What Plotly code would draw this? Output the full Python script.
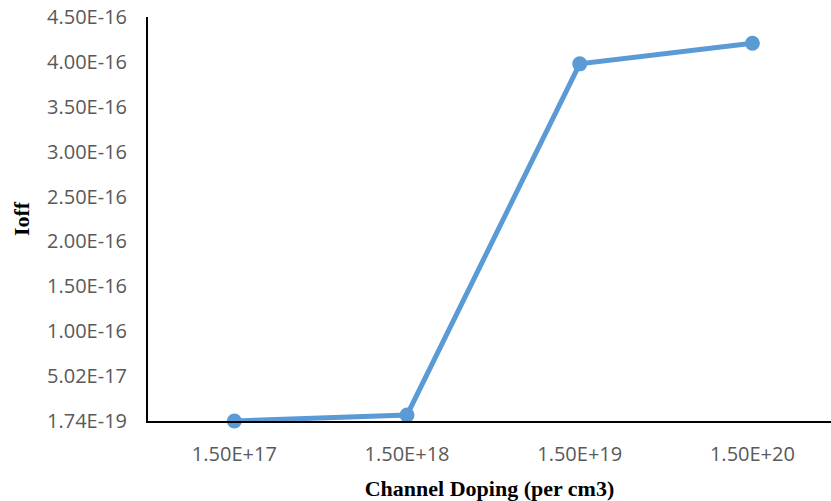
import plotly.graph_objects as go

# Data
categories = ["1.50E+17", "1.50E+18", "1.50E+19", "1.50E+20"]
ioff_values = [1.74e-19, 6.9e-18, 3.98e-16, 4.21e-16]
y_tick_values = [1.74e-19 + k * 5e-17 for k in range(10)]
y_tick_labels = ["1.74E-19", "5.02E-17", "1.00E-16", "1.50E-16", "2.00E-16",
                 "2.50E-16", "3.00E-16", "3.50E-16", "4.00E-16", "4.50E-16"]

fig = go.Figure()
fig.add_trace(go.Scatter(
    x=categories, y=ioff_values, mode="lines+markers",
    line=dict(color="#5B9BD5", width=5),
    marker=dict(color="#5B9BD5", size=15),
    cliponaxis=False, showlegend=False,
))

tick_font = dict(family="Open Sans", size=20, color="#595959")
title_font = dict(family="Liberation Serif", size=22, color="black")

y_span = y_tick_values[-1] - y_tick_values[0]

fig.update_layout(
    width=831, height=501,
    margin=dict(l=148, r=0, t=17, b=80),
    paper_bgcolor="white", plot_bgcolor="white",
    xaxis=dict(
        type="category", range=[-0.5, 3.455],
        showline=True, linecolor="black", linewidth=2,
        showgrid=False, zeroline=False,
        ticks="outside", ticklen=14, tickcolor="rgba(0,0,0,0)",
        tickfont=tick_font,
        title=dict(text="<b>Channel Doping (per cm3)</b>", font=title_font, standoff=15),
        automargin=False,
    ),
    yaxis=dict(
        range=[y_tick_values[0], y_tick_values[-1] + y_span * 1e-6],
        tickmode="array", tickvals=y_tick_values, ticktext=y_tick_labels,
        showline=True, linecolor="black", linewidth=2,
        showgrid=False, zeroline=False,
        ticks="outside", ticklen=15, tickcolor="rgba(0,0,0,0)",
        tickfont=tick_font, ticklabeloverflow="allow",
        title=dict(text="<b>Ioff</b>", font=title_font, standoff=11),
        automargin=False,
    ),
)

fig.write_html(
    "out.html",
    config={"displayModeBar": False},
    post_script="document.body.style.margin='0';document.body.style.overflow='hidden';",
)
